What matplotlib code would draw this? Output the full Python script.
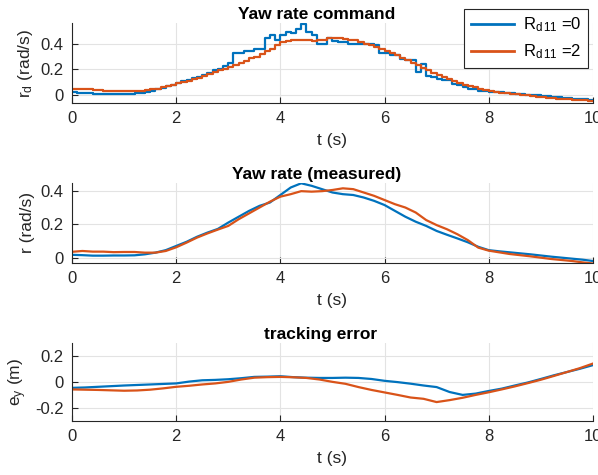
import numpy as np
import matplotlib.pyplot as plt

plt.rcParams['font.family'] = ['Liberation Sans', 'DejaVu Sans']
plt.rcParams['mathtext.fontset'] = 'custom'
plt.rcParams['mathtext.rm'] = 'Liberation Sans'
plt.rcParams['mathtext.it'] = 'Liberation Sans'

# ---- data ----
# yaw rate command, sampled every 0.1 s, drawn as stairs
t_cmd = np.arange(0, 101) / 10.0
rd_0 = [0.022, 0.020, 0.018, 0.015, 0.012, 0.010, 0.008, 0.006, 0.006, 0.006,
        0.008, 0.010, 0.014, 0.020, 0.028, 0.036, 0.045, 0.055, 0.068, 0.080,
        0.095, 0.108, 0.120, 0.132, 0.140, 0.160, 0.170, 0.195, 0.205, 0.225,
        0.250, 0.330, 0.330, 0.345, 0.345, 0.360, 0.360, 0.440, 0.470, 0.430,
        0.470, 0.490, 0.480, 0.510, 0.550, 0.490, 0.470, 0.400, 0.400, 0.440,
        0.420, 0.410, 0.410, 0.400, 0.400, 0.400, 0.400, 0.400, 0.390, 0.330,
        0.330, 0.310, 0.310, 0.280, 0.275, 0.270, 0.180, 0.245, 0.150, 0.140,
        0.125, 0.120, 0.115, 0.090, 0.080, 0.060, 0.050, 0.045, 0.035, 0.030,
        0.028, 0.026, 0.024, 0.020, 0.016, 0.012, 0.008, 0.004, 0.002, 0.000,
        -0.004, -0.008, -0.012, -0.016, -0.020, -0.024, -0.028, -0.030, -0.032, -0.034,
        -0.035]
rd_2 = [0.052, 0.050, 0.048, 0.046, 0.043, 0.040, 0.036, 0.033, 0.030, 0.030,
        0.030, 0.031, 0.033, 0.036, 0.040, 0.045, 0.052, 0.060, 0.070, 0.080,
        0.092, 0.102, 0.114, 0.125, 0.137, 0.150, 0.163, 0.178, 0.192, 0.206,
        0.220, 0.236, 0.252, 0.268, 0.285, 0.300, 0.320, 0.340, 0.360, 0.390,
        0.410, 0.420, 0.425, 0.425, 0.425, 0.425, 0.420, 0.425, 0.430, 0.440,
        0.445, 0.440, 0.435, 0.430, 0.425, 0.415, 0.400, 0.390, 0.375, 0.360,
        0.345, 0.330, 0.310, 0.290, 0.270, 0.250, 0.235, 0.215, 0.195, 0.175,
        0.155, 0.140, 0.125, 0.110, 0.095, 0.080, 0.070, 0.060, 0.050, 0.040,
        0.032, 0.026, 0.020, 0.015, 0.010, 0.006, 0.002, -0.002, -0.006, -0.010,
        -0.014, -0.018, -0.022, -0.026, -0.030, -0.033, -0.036, -0.038, -0.040, -0.042,
        -0.043]

# measured yaw rate, every 0.2 s
t_r = np.arange(0, 51) / 5.0
r_0 = [0.017, 0.015, 0.012, 0.012, 0.013, 0.013, 0.014, 0.020, 0.030, 0.045,
       0.070, 0.095, 0.125, 0.150, 0.172, 0.210, 0.245, 0.280, 0.310, 0.330,
       0.375, 0.420, 0.445, 0.430, 0.410, 0.390, 0.380, 0.375, 0.360, 0.340,
       0.315, 0.280, 0.245, 0.215, 0.190, 0.160, 0.137, 0.115, 0.092, 0.065,
       0.045, 0.038, 0.032, 0.026, 0.020, 0.013, 0.006, 0.000, -0.006, -0.012,
       -0.020]
r_2 = [0.035, 0.040, 0.036, 0.036, 0.033, 0.034, 0.034, 0.030, 0.030, 0.040,
       0.062, 0.090, 0.120, 0.145, 0.168, 0.190, 0.230, 0.265, 0.300, 0.335,
       0.365, 0.380, 0.398, 0.395, 0.398, 0.405, 0.415, 0.410, 0.390, 0.370,
       0.345, 0.320, 0.300, 0.270, 0.225, 0.195, 0.170, 0.140, 0.105, 0.060,
       0.042, 0.032, 0.022, 0.015, 0.008, 0.000, -0.008, -0.014, -0.020, -0.028,
       -0.035]

# tracking error, every 0.25 s
t_e = np.arange(0, 41) / 4.0
ey_0 = [-0.046, -0.043, -0.038, -0.033, -0.028, -0.024, -0.020, -0.016, -0.012, 0.002,
        0.012, 0.015, 0.020, 0.028, 0.038, 0.040, 0.043, 0.036, 0.032, 0.030,
        0.030, 0.032, 0.030, 0.022, 0.008, -0.002, -0.014, -0.028, -0.040, -0.078,
        -0.100, -0.090, -0.070, -0.052, -0.028, -0.005, 0.022, 0.050, 0.075, 0.100,
        0.128]
ey_2 = [-0.058, -0.060, -0.062, -0.065, -0.068, -0.066, -0.060, -0.050, -0.038, -0.030,
        -0.020, -0.012, 0.000, 0.018, 0.032, 0.036, 0.038, 0.035, 0.030, 0.018,
        0.000, -0.015, -0.040, -0.062, -0.081, -0.100, -0.120, -0.130, -0.155, -0.140,
        -0.122, -0.100, -0.080, -0.058, -0.035, -0.010, 0.016, 0.045, 0.075, 0.105,
        0.140]

labels = [r'R$_{\mathregular{d\,11}}$ =0', r'R$_{\mathregular{d\,11}}$ =2']
c_blue = '#0072BD'
c_orange = '#D95319'
txt = '#262626'

fig = plt.figure(figsize=(5.98, 4.75), dpi=100)
left, width = 0.1204, 0.871
boxes = [(0.7832, 0.9516), (0.447, 0.6141), (0.1137, 0.2785)]
axes = [fig.add_axes([left, b, width, t - b]) for b, t in boxes]

ax = axes[0]
l1, = ax.step(t_cmd, rd_0, where='post', color=c_blue, lw=1.6)
l2, = ax.step(t_cmd, rd_2, where='post', color=c_orange, lw=1.6)
ax.set_ylim(-0.06, 0.56)
ax.set_yticks([0, 0.2, 0.4])
ax.set_yticklabels(['0', '0.2', '0.4'])
ax.set_title('Yaw rate command', fontweight='bold', fontsize=12.5, pad=3, x=0.47)
ax.set_ylabel(r'r$_{\mathregular{d}}$ (rad/s)')

ax = axes[1]
ax.plot(t_r, r_0, color=c_blue, lw=1.6)
ax.plot(t_r, r_2, color=c_orange, lw=1.6)
ax.set_ylim(-0.03, 0.445)
ax.set_yticks([0, 0.2, 0.4])
ax.set_yticklabels(['0', '0.2', '0.4'])
ax.set_title('Yaw rate (measured)', fontweight='bold', fontsize=12.5, pad=3, x=0.47)
ax.set_ylabel('r (rad/s)')

ax = axes[2]
ax.plot(t_e, ey_0, color=c_blue, lw=1.6)
ax.plot(t_e, ey_2, color=c_orange, lw=1.6)
ax.set_ylim(-0.3, 0.3)
ax.set_yticks([-0.2, 0, 0.2])
ax.set_yticklabels(['-0.2', '0', '0.2'])
ax.set_title('tracking error', fontweight='bold', fontsize=12.5, pad=3, x=0.477)
ax.set_ylabel(r'e$_{\mathregular{y}}$ (m)')

for ax in axes:
    ax.set_xlim(0, 10)
    ax.set_xticks([0, 2, 4, 6, 8, 10])
    ax.set_xlabel('t (s)', fontsize=12.5, color=txt, labelpad=5)
    ax.yaxis.label.set_color(txt)
    ax.yaxis.label.set_size(12.5)
    ax.grid(True, color='#e3e3e3', lw=0.8)
    ax.set_axisbelow(True)
    for s in ['top', 'right']:
        ax.spines[s].set_visible(False)
    for s in ['left', 'bottom']:
        ax.spines[s].set_color(txt)
        ax.spines[s].set_linewidth(0.8)
    ax.tick_params(direction='in', length=4, width=0.8, colors=txt,
                   labelsize=12, labelcolor=txt, pad=6)

leg = fig.legend([l1, l2], labels, loc='upper right', bbox_to_anchor=(0.983, 0.981),
                 borderaxespad=0, fancybox=False, framealpha=1, edgecolor=txt,
                 fontsize=12, handlelength=2.6, handletextpad=0.5,
                 borderpad=0.4, labelspacing=0.5)
leg.get_frame().set_linewidth(0.8)
for h in leg.legend_handles:
    h.set_linewidth(2)

fig.savefig('out.png', dpi=100)
